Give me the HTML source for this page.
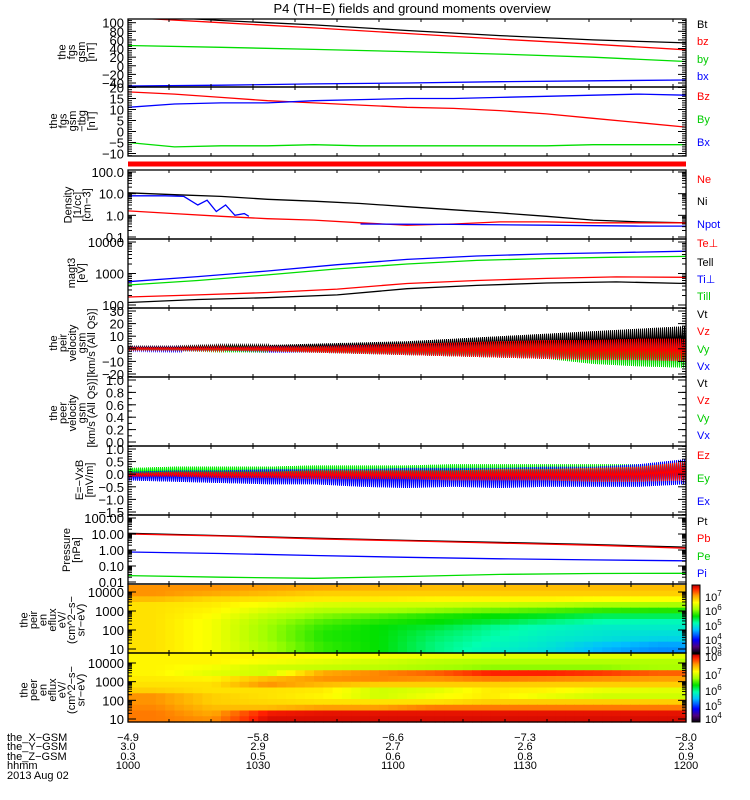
<!DOCTYPE html>
<html><head><meta charset="utf-8"><style>
body{margin:0;background:#fff}
svg{display:block;font-family:"Liberation Sans",sans-serif}
</style></head><body>
<svg id="s" width="750" height="800" xmlns="http://www.w3.org/2000/svg">
<rect width="750" height="800" fill="#fff"/>
<text x="412" y="13" font-size="13" text-anchor="middle">P4 (TH−E) fields and ground moments overview</text>
</svg>
<script>
// ---- data ----
const tMag=[0,20,40,60,80,100,120];
const magBt=[118,105,95,82,70,60,53];
const magBz=[112,100,88,75,62,50,37];
const magBy=[47,43,38,33,27,20,10];
const magBx=[-47,-45,-42,-40,-37,-35,-33];
const tTbg=[0,10,20,30,40,50,60,70,80,90,100,110,120];
const tbgBz=[18,17,15.5,14,13,12,11,10.5,9.5,8,6,4,2];
const tbgBy=[11,12.5,13,13,14,14.5,15,15,15.5,16,16.5,17,16.5];
const tbgBx=[-5,-7,-6.5,-6.5,-6,-6.5,-6.5,-6.5,-6.5,-6.5,-6,-6,-6];
const tDen=[0,10,20,30,40,50,60,70,80,90,100,110,120];
const denNi=[11,9,7.5,5.5,4.5,3.5,2.5,1.8,1.3,0.9,0.6,0.5,0.45];
const denNe=[1.6,1.2,0.9,0.7,0.6,0.45,0.35,0.4,0.5,0.5,0.45,0.45,0.45];
const tNpot1=[0,8,12,15,17,19,21,23,25,26];
const denNpot1=[8,8,7.5,3,5,1.5,3,1,1.2,0.9];
const tNpot2=[50,70,90,110,120];
const denNpot2=[0.4,0.38,0.35,0.32,0.32];
const tTemp=[0,15,30,45,60,75,90,105,120];
const tempTiPerp=[550,800,1200,1900,2800,3600,4200,4600,5100];
const tempTiPar=[430,600,900,1400,2000,2600,3000,3300,3500];
const tempTePerp=[180,210,250,320,480,600,700,780,760];
const tempTePar=[120,150,170,210,330,420,500,540,480];
const tNoise=[0,10,20,30,40,50,60,70,80,90,100,110,120];
const vtUp=[2,2,3,3,4,5,6,8,10,12,14,16,18], vtLo=[0,0,0,0,0,0,0,0,0,0,0,0,0];
const vxUp=[1,1,1.5,2,2,3,3,4,5,5,6,6,6], vxLo=[-1.5,-2,-2,-3,-3,-4,-5,-6,-7,-8,-9,-10,-11];
const vyUp=[0.5,0.5,1,1,2,2,3,3,5,5,5,6,5], vyLo=[-1,-1,-2,-2,-3,-4,-5,-6,-7,-8,-12,-14,-15];
const vzUp=[1,1,1.5,2,2,3,4,5,6,7,7,8,8], vzLo=[-1,-1,-1.5,-2,-3,-4,-5,-6,-7,-8,-9,-9,-10];
const eyUp=[0.25,0.3,0.3,0.3,0.35,0.35,0.35,0.4,0.4,0.4,0.4,0.4,0.5], eyLo=[-0.05,-0.1,-0.1,-0.15,-0.15,-0.2,-0.2,-0.2,-0.25,-0.25,-0.3,-0.3,-0.2];
const exUp=[0.1,0.15,0.15,0.2,0.2,0.2,0.25,0.25,0.25,0.3,0.3,0.4,0.6], exLo=[-0.25,-0.3,-0.35,-0.4,-0.4,-0.5,-0.55,-0.5,-0.55,-0.5,-0.5,-0.5,-0.4];
const ezUp=[0.05,0.1,0.1,0.1,0.15,0.15,0.15,0.15,0.2,0.2,0.25,0.3,0.5], ezLo=[-0.1,-0.1,-0.15,-0.15,-0.2,-0.2,-0.2,-0.25,-0.25,-0.25,-0.3,-0.3,-0.25];
const tPres=[0,20,40,60,80,100,120];
const presPt=[11,8,5.5,4,3,2.2,1.5];
const presPb=[10,7.5,5,3.7,2.7,2,1.3];
const presPi=[0.75,0.6,0.45,0.35,0.28,0.24,0.21];
const presPe=[0.025,0.02,0.017,0.022,0.03,0.034,0.035];
const ionLevel=[
[0.86,0.86,0.85,0.84,0.83,0.82,0.82,0.82,0.82,0.82],
[0.86,0.84,0.82,0.80,0.80,0.80,0.80,0.80,0.80,0.80],
[0.82,0.79,0.78,0.77,0.77,0.76,0.76,0.76,0.75,0.75],
[0.78,0.77,0.74,0.71,0.70,0.70,0.69,0.68,0.66,0.66],
[0.78,0.76,0.71,0.67,0.66,0.64,0.62,0.60,0.58,0.57],
[0.78,0.75,0.68,0.63,0.60,0.57,0.55,0.53,0.50,0.50],
[0.78,0.74,0.66,0.60,0.57,0.55,0.52,0.48,0.45,0.44],
[0.78,0.74,0.65,0.58,0.55,0.52,0.47,0.44,0.42,0.42],
[0.78,0.74,0.65,0.57,0.55,0.50,0.46,0.43,0.41,0.40],
[0.78,0.74,0.65,0.57,0.55,0.49,0.45,0.42,0.40,0.38],
[0.78,0.74,0.66,0.58,0.55,0.48,0.44,0.41,0.36,0.33],
[0.78,0.74,0.66,0.58,0.55,0.48,0.43,0.40,0.34,0.31]];
const eleLevel=[
[0.76,0.76,0.76,0.75,0.74,0.73,0.72,0.72,0.72,0.72],
[0.76,0.76,0.74,0.72,0.70,0.68,0.67,0.67,0.67,0.67],
[0.76,0.74,0.70,0.69,0.68,0.66,0.64,0.64,0.64,0.66],
[0.76,0.72,0.70,0.84,0.87,0.90,0.95,0.95,0.93,0.90],
[0.77,0.76,0.82,0.86,0.87,0.86,0.88,0.87,0.86,0.85],
[0.78,0.78,0.86,0.82,0.80,0.80,0.80,0.80,0.80,0.80],
[0.80,0.78,0.78,0.77,0.70,0.72,0.77,0.76,0.73,0.72],
[0.86,0.80,0.78,0.76,0.70,0.74,0.77,0.73,0.70,0.70],
[0.86,0.80,0.79,0.78,0.78,0.78,0.80,0.80,0.80,0.80],
[0.87,0.82,0.82,0.85,0.85,0.88,0.88,0.88,0.88,0.88],
[0.88,0.84,0.96,0.97,0.97,0.97,0.97,0.97,0.97,0.97],
[0.88,0.86,0.98,0.98,0.98,0.98,0.98,0.98,0.98,0.98]];
const posX=["−4.9","−5.8","−6.6","−7.3","−8.0"];
const posY=["3.0","2.9","2.7","2.6","2.3"];
const posZ=["0.3","0.5","0.6","0.8","0.9"];
const posT=["1000","1030","1100","1130","1200"];

// ---- helpers ----
const S=document.getElementById('s'),NS='http://www.w3.org/2000/svg';
const L=128,R=686;
function el(tag,a,p){const e=document.createElementNS(NS,tag);for(const k in a)e.setAttribute(k,a[k]);(p||S).appendChild(e);return e;}
const X=t=>L+t/120*(R-L);
function lin(v0,y0,v1,y1){return v=>y0+(v-v0)*(y1-y0)/(v1-v0);}
function lg(v0,y0,v1,y1){const f=lin(Math.log10(v0),y0,Math.log10(v1),y1);return v=>f(Math.log10(v));}
function interp(ts,vs,t){if(t<=ts[0])return vs[0];for(let i=1;i<ts.length;i++)if(t<=ts[i]){const f=(t-ts[i-1])/(ts[i]-ts[i-1]);return vs[i-1]+f*(vs[i]-vs[i-1]);}return vs[vs.length-1];}
function clip(id,top,bot){const c=el('clipPath',{id:id});el('rect',{x:L,y:top,width:R-L,height:bot-top},c);}
function line(ts,vs,ys,col,cid,name){
  const p=el('polyline',{points:ts.map((t,i)=>X(t).toFixed(1)+','+ys(vs[i]).toFixed(1)).join(' '),fill:'none',stroke:col,'stroke-width':1.3,'clip-path':'url(#'+cid+')'});
  
  
}
function noise(ts,up,lo,ys,col,cid,name){
  let pts=[];let k=0;
  for(let x=L+0.5;x<=R;x+=1){const t=(x-L)/(R-L)*120;const v=(k%2)?interp(ts,lo,t):interp(ts,up,t);pts.push(x.toFixed(1)+','+ys(v).toFixed(1));k++;}
  const p=el('polyline',{points:pts.join(' '),fill:'none',stroke:col,'stroke-width':1,'clip-path':'url(#'+cid+')'});
  
  
}
function panel(name,top,bot,ticks,minors){
  const g=el('g',{});
  
  
  ticks.forEach(([y,lab])=>{
    el('line',{x1:L,x2:L+8,y1:y,y2:y,stroke:'#000'},g);
    el('line',{x1:R-8,x2:R,y1:y,y2:y,stroke:'#000'},g);
    const t=el('text',{x:124,y:y+5,'font-size':13,'text-anchor':'end'},g);t.textContent=lab;
  });
  (minors||[]).forEach(y=>{el('line',{x1:L,x2:L+4,y1:y,y2:y,stroke:'#000'},g);el('line',{x1:R-4,x2:R,y1:y,y2:y,stroke:'#000'},g);});
  for(let x=169;x<R-5;x+=42){el('line',{x1:x,x2:x,y1:top,y2:top+3,stroke:'#000'},g);el('line',{x1:x,x2:x,y1:bot-3,y2:bot,stroke:'#000'},g);}
  el('rect',{x:L,y:top,width:R-L,height:bot-top,fill:'none',stroke:'#000','stroke-width':1.3},g);
}
function ylabel(name,cx,cy,lines){
  const t=el('text',{transform:`translate(${cx},${cy}) rotate(-90)`,'font-size':11,'text-anchor':'middle'});
  
  
  const off=-(lines.length-1)*9.5/2;
  lines.forEach((s,i)=>{const sp=el('tspan',{x:0,y:(off+i*9.5+4).toFixed(1)},t);sp.textContent=s;});
}
function legend(items){items.forEach(([s,y,c,n])=>{const t=el('text',{x:697,y:y+4,'font-size':11,fill:c});t.textContent=s;});}
function minorsLin(a,b,step,ys){const r=[];for(let v=a;v<=b+1e-9;v+=step)r.push(ys(v));return r;}
function minorsLog(d0,d1,ys){const r=[];for(let d=d0;d<d1;d++)for(let m=2;m<10;m++)r.push(ys(m*Math.pow(10,d)));return r;}

// ---- panel 1 ----
let y1=lin(100,22.7,-40,83);clip('c1',19,87);
line(tMag,magBt,y1,'#000','c1','series-bt');line(tMag,magBz,y1,'#f00','c1','series-bz');
line(tMag,magBy,y1,'#0d0','c1','series-by');line(tMag,magBx,y1,'#00f','c1','series-bx');
panel('panel-fgs-gsm',19,87,[100,80,60,40,20,0,-20,-40].map(v=>[y1(v),v<0?'−'+(-v):''+v]),minorsLin(-45,105,5,y1).filter(y=>y>19&&y<87));
ylabel('y-axis-title-fgs',76,52,['the','fgs','gsm','[nT]']);
legend([['Bt',24,'#000','legend-bt'],['bz',41,'#f00','legend-bz'],['by',59,'#0c0','legend-by'],['bx',76,'#00f','legend-bx']]);
// ---- panel 2 ----
let y2=lin(20,87.5,-10,153.5);clip('c2',87,156);
line(tTbg,tbgBz,y2,'#f00','c2','series-tbg-bz');line(tTbg,tbgBy,y2,'#00f','c2','series-tbg-by');line(tTbg,tbgBx,y2,'#0d0','c2','series-tbg-bx');
panel('panel-fgs-tbg',87,156,[20,15,10,5,0,-5,-10].map(v=>[y2(v),v<0?'−'+(-v):''+v]),minorsLin(-12,20,1,y2).filter(y=>y>87&&y<156));
ylabel('y-axis-title-tbg',72,121,['the','fgs','gsm','−tbg','[nT]']);
legend([['Bz',96,'#f00','legend-tbg-bz'],['By',119,'#0c0','legend-tbg-by'],['Bx',142,'#00f','legend-tbg-bx']]);
el('rect',{x:L,y:161.5,width:R-L,height:5,fill:'#f00',});
// ---- panel 3 ----
let y3=lg(100,172,0.1,237);clip('c3',170,239);
line(tDen,denNi,y3,'#000','c3','series-ni');line(tDen,denNe,y3,'#f00','c3','series-ne');
line(tNpot1,denNpot1,y3,'#00f','c3','series-npot');line(tNpot2,denNpot2,y3,'#00f','c3','series-npot-late');
panel('panel-density',170,239,[[y3(100),'100.0'],[y3(10),'10.0'],[y3(1),'1.0'],[y3(0.1),'0.1']],minorsLog(-1,2,y3));
ylabel('y-axis-title-density',77,205,['Density','[1/cc]','[cm−3]']);
legend([['Ne',179,'#f00','legend-ne'],['Ni',201,'#000','legend-ni'],['Npot',224,'#00f','legend-npot']]);
// ---- panel 4 ----
let y4=lg(10000,242,100,305);clip('c4',239,308);
line(tTemp,tempTePar,y4,'#000','c4','series-te-par');line(tTemp,tempTePerp,y4,'#f00','c4','series-te-perp');
line(tTemp,tempTiPar,y4,'#0d0','c4','series-ti-par');line(tTemp,tempTiPerp,y4,'#00f','c4','series-ti-perp');
panel('panel-temperature',239,308,[[y4(10000),'10000'],[y4(1000),'1000'],[y4(100),'100']],minorsLog(2,4,y4));
ylabel('y-axis-title-temp',76,273,['magt3','[eV]']);
legend([['Te⊥',243,'#f00','legend-te-perp'],['Tell',262,'#000','legend-te-par'],['Ti⊥',279,'#00f','legend-ti-perp'],['Till',296,'#0c0','legend-ti-par']]);
// ---- panel 5 ----
let y5=lin(30,311,-20,374);clip('c5',308,377);
noise(tNoise,vtUp,vtLo,y5,'#000','c5','series-vt');noise(tNoise,vxUp,vxLo,y5,'#00f','c5','series-vx');
noise(tNoise,vyUp,vyLo,y5,'#0d0','c5','series-vy');noise(tNoise,vzUp,vzLo,y5,'#f00','c5','series-vz');
panel('panel-ion-velocity',308,377,[30,20,10,0,-10,-20].map(v=>[y5(v),v<0?'−'+(-v):''+v]),minorsLin(-22,32,2,y5).filter(y=>y>308&&y<377));
ylabel('y-axis-title-ion-vel',72,343,['the','peir','velocity','gsm','[km/s (All Qs)]']);
legend([['Vt',314,'#000','legend-vt'],['Vz',331,'#f00','legend-vz'],['Vy',349,'#0c0','legend-vy'],['Vx',366,'#00f','legend-vx']]);
// ---- panel 6 ----
let y6=lin(1,380,0,442);
panel('panel-electron-velocity',377,446,[1,0.8,0.6,0.4,0.2,0].map(v=>[y6(v),v.toFixed(1)]),minorsLin(0,1,0.1,y6));
ylabel('y-axis-title-ele-vel',72,413,['the','peer','velocity','gsm','[km/s (All Qs)]']);
legend([['Vt',383,'#000','legend-e-vt'],['Vz',400,'#f00','legend-e-vz'],['Vy',418,'#0c0','legend-e-vy'],['Vx',435,'#00f','legend-e-vx']]);
// ---- panel 7 ----
let y7=lin(1,449,-1.5,512);clip('c7',446,515);
noise(tNoise,eyUp,eyLo,y7,'#0e0','c7','series-ey');noise(tNoise,exUp,exLo,y7,'#00f','c7','series-ex');noise(tNoise,ezUp,ezLo,y7,'#f00','c7','series-ez');
panel('panel-efield',446,515,[1,0.5,0,-0.5,-1,-1.5].map(v=>[y7(v),v<0?'−'+(-v).toFixed(1):v.toFixed(1)]),minorsLin(-1.6,1.1,0.1,y7).filter(y=>y>446&&y<515));
ylabel('y-axis-title-efield',84,480,['E=−VxB','[mV/m]']);
legend([['Ez',455,'#f00','legend-ez'],['Ey',478,'#0c0','legend-ey'],['Ex',501,'#00f','legend-ex']]);
// ---- panel 8 ----
let y8=lg(100,518,0.01,582);clip('c8',515,584);
line(tPres,presPt,y8,'#000','c8','series-pt');line(tPres,presPb,y8,'#f00','c8','series-pb');
line(tPres,presPi,y8,'#00f','c8','series-pi');line(tPres,presPe,y8,'#0d0','c8','series-pe');
panel('panel-pressure',515,584,[[y8(100),'100.00'],[y8(10),'10.00'],[y8(1),'1.00'],[y8(0.1),'0.10'],[y8(0.01),'0.01']],minorsLog(-2,2,y8));
ylabel('y-axis-title-pressure',71,550,['Pressure','[nPa]']);
legend([['Pt',521,'#000','legend-pt'],['Pb',538,'#f00','legend-pb'],['Pe',556,'#0c0','legend-pe'],['Pi',573,'#00f','legend-pi']]);
// ---- spectrograms ----
const stops=[[0,[0,0,0]],[0.1,[80,0,127]],[0.2,[0,0,255]],[0.35,[0,192,255]],[0.45,[0,255,176]],[0.55,[0,224,0]],[0.65,[160,255,0]],[0.75,[255,255,0]],[0.85,[255,160,0]],[0.95,[255,32,0]],[1,[192,0,0]]];
function cmap(v){v=Math.max(0,Math.min(1,v));for(let i=1;i<stops.length;i++)if(v<=stops[i][0]){const f=(v-stops[i-1][0])/(stops[i][0]-stops[i-1][0]);const a=stops[i-1][1],b=stops[i][1];return 'rgb('+a.map((c,j)=>Math.round(c+f*(b[j]-c))).join(',')+')';}return 'rgb(192,0,0)';}
function spec(name,grid,top,bot){
  const g=el('g',{});
  
  
  const nr=grid.length,nc=grid[0].length,rh=(bot-top)/nr,sub=6,cw=(R-L)/(nc*sub);
  for(let r=0;r<nr;r++)for(let c=0;c<nc*sub;c++){
    const pos=(c+0.5)/sub-0.5;const i0=Math.max(0,Math.min(nc-1,Math.floor(pos))),i1=Math.min(nc-1,i0+1);const f=Math.max(0,Math.min(1,pos-i0));
    const v=grid[r][i0]+f*(grid[r][i1]-grid[r][i0]);
    el('rect',{x:(L+c*cw).toFixed(2),y:(top+r*rh).toFixed(2),width:(cw+0.6).toFixed(2),height:(rh+0.6).toFixed(2),fill:cmap(v)},g);
  }
}
spec('ion-spectrogram',ionLevel,585,653);spec('electron-spectrogram',eleLevel,653,722);
let y9=lg(10000,592,10,649);
panel('panel-ion-eflux',584,653,[[y9(10000),'10000'],[y9(1000),'1000'],[y9(100),'100'],[y9(10),'10']],minorsLog(1,4,y9));
ylabel('y-axis-title-ion-eflux',52,620,['the','peir','en','eflux','eV/','(cm^2−s−','sr−eV)']);
let y10=lg(10000,663,10,719);
panel('panel-electron-eflux',653,722,[[y10(10000),'10000'],[y10(1000),'1000'],[y10(100),'100'],[y10(10),'10']],minorsLog(1,4,y10));
ylabel('y-axis-title-ele-eflux',52,690,['the','peer','en','eflux','eV/','(cm^2−s−','sr−eV)']);
// colorbars
function cbar(name,top,bot,labs){
  const g=el('g',{});
  
  
  const n=60,h=(bot-top)/n;
  for(let i=0;i<n;i++)el('rect',{x:692,y:(top+i*h).toFixed(2),width:8,height:(h+0.5).toFixed(2),fill:cmap(1-i/n)},g);
  el('rect',{x:692,y:top,width:8,height:bot-top,fill:'none',stroke:'#000'},g);
  labs.forEach(([y,e])=>{const t=el('text',{x:705,y:y+4,'font-size':11},g);t.textContent='10';const s=el('tspan',{dy:-5,'font-size':8},t);s.textContent=e;});
}
cbar('ion-colorbar',585,653,[[597,'7'],[611,'6'],[626,'5'],[640,'4'],[650,'3']]);
cbar('electron-colorbar',654,722,[[657,'8'],[675,'7'],[691,'6'],[706,'5'],[719,'4']]);
// bottom labels
const rows=[['the_X−GSM',posX,741],['the_Y−GSM',posY,750],['the_Z−GSM',posZ,760],['hhmm',posT,769]];
const xs=[128,258,393,525,686];
rows.forEach(([n,vals,y],ri)=>{
  const t=el('text',{x:7,y:y,'font-size':11});t.textContent=n;
  
  
  vals.forEach((v,i)=>{const u=el('text',{x:xs[i],y:y,'font-size':11,'text-anchor':'middle'});u.textContent=v;
    
    });
});
const d=el('text',{x:7,y:779,'font-size':11});d.textContent='2013 Aug 02';


</script>
</body></html>
